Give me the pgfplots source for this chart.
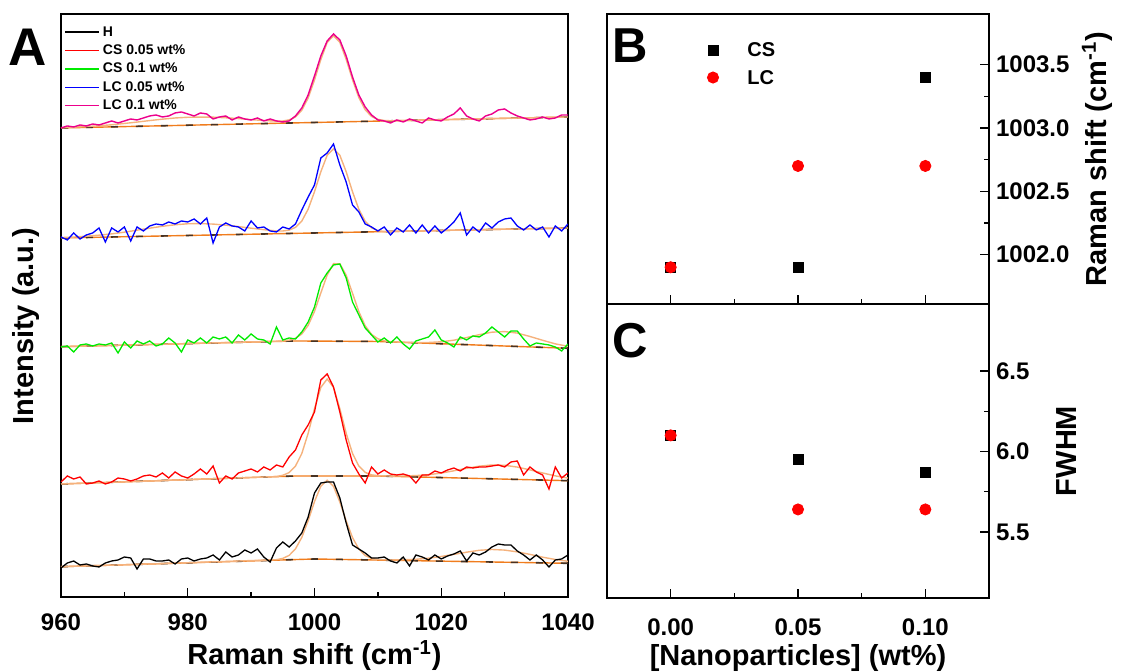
\documentclass[border=0pt]{standalone}
\usepackage{pgfplots}
\pgfplotsset{compat=1.18}
\usepackage{pgfplotstable}
\usepackage{fontspec}
\setmainfont{Liberation Sans}
\definecolor{fitor}{RGB}{245,178,125}
\definecolor{baseor}{RGB}{240,125,30}
\definecolor{lgreen}{RGB}{0,235,0}
\definecolor{darkb}{RGB}{70,50,35}

\pgfplotstableread{
X H CSa CSb LCa LCb
960 32 118 253 363 472
961 37 124 254 360 474
962 39 121 248 367 473
963 35 123 255 361 475
964 36 116 256 365 474
965 34 117 254 367 476
966 33 119 256 372 475
967 37 116 255 358 477
968 39 118 257 372 479
969 40 122 247 368 477
970 43 121 258 373 479
971 42 119 252 359 481
972 31 121 259 373 480
973 41 124 256 369 482
974 41 125 259 374 484
975 39 123 254 376 485
976 39 127 256 375 483
977 40 122 262 378 484
978 36 128 257 376 487
979 41 124 248 379 488
980 42 122 260 378 486
981 39 126 257 381 484
982 41 131 262 376 487
983 42 126 257 382 486
984 45 134 263 357 481
985 40 117 261 373 483
986 48 124 263 377 484
987 43 121 257 374 480
988 45 127 265 373 483
989 50 129 260 369 481
990 47 131 266 379 480
991 51 128 261 372 482
992 43 133 260 373 479
993 38 130 256 369 481
994 52 135 273 368 479
995 58 133 260 373 478
996 53 143 262 371 479
997 59 150 261 376 484
998 67 165 268 390 492
999 83 175 278 403 505
1000 107 188 293 415 524
1001 117 220 317 442 544
1002 118 226 327 447 559
1003 118 213 335 456 566
1004 102 188 336 435 560
1005 77 160 322 418 544
1006 55 137 298 395 523
1007 51 126 285 388 505
1008 47 117 272 376 493
1009 42 133 265 373 485
1010 42 126 258 369 480
1011 43 130 262 373 479
1012 39 126 257 365 477
1013 37 125 263 372 480
1014 43 126 256 368 478
1015 34 124 251 375 481
1016 45 117 259 367 479
1017 43 125 261 375 477
1018 40 125 263 367 482
1019 45 129 270 374 480
1020 41 127 260 367 479
1021 44 130 257 372 483
1022 46 132 253 378 486
1023 49 129 263 387 492
1024 39 133 260 365 484
1025 47 132 264 373 481
1026 45 133 263 368 479
1027 48 133 267 377 484
1028 53 134 273 372 486
1029 56 135 268 378 490
1030 55 133 263 381 491
1031 55 138 269 382 487
1032 49 139 269 374 484
1033 45 125 261 370 482
1034 40 133 254 375 480
1035 45 128 257 370 481
1036 40 125 256 373 483
1037 33 111 255 363 481
1038 40 133 253 374 482
1039 41 122 249 369 485
1040 45 127 256 376 485
}\spectra

\pgfplotsset{
  common/.style={
    scale only axis,
    axis line style={line width=0.7pt},
    every tick/.style={black, line width=0.7pt},
    tick align=inside,
    major tick length=4.5pt,
    minor tick length=2.5pt,
    /pgf/number format/assume math mode=true,
    /pgf/number format/set thousands separator={},
  },
  bline/.style={baseor, line width=0.7pt},
  bdash/.style={darkb, line width=0.8pt, dash pattern=on 3.5pt off 9pt},
  fline/.style={fitor, line width=0.7pt},
}

\begin{document}
\begin{tikzpicture}[x=1pt,y=1pt]
\useasboundingbox (0,0) rectangle (562.5,336);

% ---------------- Panel A ----------------
\begin{axis}[common,
  at={(30.5pt,37.5pt)}, anchor=south west,
  width=253.5pt, height=291.5pt,
  xmin=960, xmax=1040, ymin=3, ymax=586,
  xtick={960,980,...,1040}, minor x tick num=1,
  ytick=\empty,
  xtick pos=left,
  tick label style={font=\bfseries\fontsize{12}{14}\selectfont},
  xticklabel style={yshift=-4.8pt},
  xlabel={Raman shift (cm\textsuperscript{-1})},
  ylabel={Intensity (a.u.)},
  label style={font=\bfseries\fontsize{14.5}{16}\selectfont},
  xlabel style={at={(axis description cs:0.5,-0.1)}, anchor=center},
  ylabel style={at={(axis description cs:-0.069,0.465)}, anchor=center},
  legend style={draw=none, fill=none, at={(0.006,0.985)}, anchor=north west,
    font=\bfseries\fontsize{7}{8}\selectfont, inner sep=0pt, row sep=0.2pt,
    nodes={text height=5pt, text depth=1pt, inner sep=1.5pt}},
  legend cell align=left,
]
% baselines
\addplot[bline, forget plot] coordinates {(960,472)(1040,483)};
\addplot[bline, forget plot] coordinates {(960,362)(1040,372)};
\addplot[bline, forget plot] coordinates {(960,253.3)(997,259)(1010,258.5)(1040,251.7)};
\addplot[bline, forget plot] coordinates {(960,116)(997,124)(1010,124)(1040,119.3)};
\addplot[bline, forget plot] coordinates {(960,33.3)(1000,41)(1040,36.7)};
\addplot[bdash, forget plot] coordinates {(960,472)(1040,483)};
\addplot[bdash, forget plot] coordinates {(960,362)(1040,372)};
\addplot[bdash, forget plot] coordinates {(960,253.3)(997,259)(1010,258.5)(1040,251.7)};
\addplot[bdash, forget plot] coordinates {(960,116)(997,124)(1010,124)(1040,119.3)};
\addplot[bdash, forget plot] coordinates {(960,33.3)(1000,41)(1040,36.7)};

% fits
\addplot[fline, forget plot] coordinates {(960,472.3)(962,472.8)(964,473.4)(966,474.2)(968,475.2)(970,476.5)(972,477.9)(974,479.4)(976,480.8)(978,482)(980,482.7)(982,482.9)(984,482.8)(986,482.2)(988,481.4)(990,480.3)(992,479.5)(994,478.8)(995,479)(996,480.1)(997,483)(998,489.7)(999,502)(1000,520)(1001,540.4)(1002,557.5)(1003,564.2)(1004,557.6)(1005,540.6)(1006,520.2)(1007,502.3)(1008,490.2)(1009,483.5)(1010,480.6)(1011,479.5)(1012,479.2)(1040,483)};
\addplot[fline, forget plot] coordinates {(960,362.4)(962,362.9)(964,363.8)(966,364.8)(968,366.1)(970,367.8)(972,369.8)(974,371.8)(976,373.7)(978,375.2)(980,376.2)(982,376.4)(984,375.9)(986,374.8)(988,373.4)(990,371.8)(992,370.3)(994,369)(995,369)(996,369.9)(997,372.6)(998,378.9)(999,390.8)(1000,408.2)(1001,428.2)(1002,444.7)(1003,451.1)(1004,444.7)(1005,428.2)(1006,408.2)(1007,390.7)(1008,378.7)(1009,372.2)(1010,369.3)(1011,368.4)(1012,368.5)(1040,372)};
\addplot[fline, forget plot] coordinates {(960,253.3)(980,256.4)(995,258.9)(996,259.8)(997,261.7)(998,266)(999,274.6)(1000,288.6)(1001,307)(1002,324.9)(1003,336.3)(1004,336.2)(1005,324.8)(1006,306.7)(1007,288.3)(1008,274.2)(1009,265.6)(1010,261.2)(1011,259.2)(1012,258.2)(1014,257.7)(1016,257.4)(1018,257.5)(1020,258.2)(1022,259.8)(1024,262.4)(1026,265.3)(1028,267.8)(1030,268.4)(1032,266.9)(1034,263.5)(1036,259.7)(1038,256.1)(1040,253.7)};
\addplot[fline, forget plot] coordinates {(960,116)(980,120.3)(994,123.4)(995,124.7)(996,127.4)(997,133.9)(998,146.5)(999,166.7)(1000,191.3)(1001,212.6)(1002,221)(1003,212.6)(1004,191.3)(1005,166.7)(1006,146.5)(1007,133.9)(1008,127.6)(1009,125.1)(1010,124.3)(1012,123.9)(1014,124)(1016,124.4)(1018,125.3)(1020,126.9)(1022,129.2)(1024,131.7)(1026,133.8)(1028,135)(1030,134.7)(1032,132.9)(1034,130.1)(1036,127)(1038,124.1)(1040,121.9)};
\addplot[fline, forget plot] coordinates {(960,33.3)(980,37.2)(994,40.3)(995,41.6)(996,44.6)(997,51.1)(998,62.6)(999,79.3)(1000,98.4)(1001,113.8)(1002,119.8)(1003,113.6)(1004,98)(1005,79)(1006,62.4)(1007,50.9)(1008,44.5)(1009,41.6)(1010,40.5)(1012,40)(1014,40.2)(1016,40.7)(1018,41.8)(1020,43.5)(1022,45.6)(1024,47.8)(1026,49.7)(1028,50.5)(1030,49.9)(1032,48.1)(1034,45.6)(1036,42.8)(1038,40.5)(1040,38.7)};

% data
\addplot[black, line width=0.65pt] table[x=X,y=H]{\spectra}; \addlegendentry{H}
\addplot[red, line width=0.65pt] table[x=X,y=CSa]{\spectra}; \addlegendentry{CS 0.05 wt\%}
\addplot[lgreen, line width=0.65pt] table[x=X,y=CSb]{\spectra}; \addlegendentry{CS 0.1 wt\%}
\addplot[blue, line width=0.65pt] table[x=X,y=LCa]{\spectra}; \addlegendentry{LC 0.05 wt\%}
\addplot[magenta, line width=0.7pt] table[x=X,y=LCb]{\spectra}; \addlegendentry{LC 0.1 wt\%}
\end{axis}

% ---------------- Panel B ----------------
\begin{axis}[common,
  at={(303.5pt,184pt)}, anchor=south west,
  width=191pt, height=145pt,
  xmin=-0.025, xmax=0.125, ymin=1001.61, ymax=1003.90,
  xtick={0,0.05,0.1}, minor x tick num=1, xticklabels={},
  xtick pos=left,
  ytick={1002,1002.5,1003,1003.5}, minor y tick num=1,
  ytick pos=right, yticklabel pos=right,
  yticklabel style={/pgf/number format/fixed, /pgf/number format/fixed zerofill, /pgf/number format/precision=1},
  tick label style={font=\bfseries\fontsize{12}{14}\selectfont},
  ylabel={Raman shift (cm\textsuperscript{-1})},
  ylabel style={at={(axis description cs:1.283,0.5)}, anchor=center, font=\bfseries\fontsize{14.5}{16}\selectfont},
  legend style={draw=none, fill=none, at={(0.244,0.924)}, anchor=north west,
    font=\bfseries\fontsize{10}{12}\selectfont, inner sep=0pt, row sep=0pt,
    nodes={text height=7.2pt, text depth=0.5pt, inner sep=3pt}},
  legend cell align=left,
  legend image code/.code={\path (-2pt,0pt) (18pt,0pt); \draw[#1] plot[only marks] coordinates {(4pt,0pt)};},
]
\addplot[only marks, mark=square*, mark size=2.5pt, black] coordinates {(0,1001.9)(0.05,1001.9)(0.1,1003.4)};
\addlegendentry{CS}
\addplot[only marks, mark=*, mark size=2.8pt, red] coordinates {(0,1001.9)(0.05,1002.7)(0.1,1002.7)};
\addlegendentry{LC}
\end{axis}

% ---------------- Panel C ----------------
\begin{axis}[common,
  at={(303.5pt,37pt)}, anchor=south west,
  width=191pt, height=147pt,
  xmin=-0.025, xmax=0.125, ymin=5.09, ymax=6.916,
  xtick={0,0.05,0.1}, minor x tick num=1,
  xtick pos=left,
  xticklabel style={yshift=-7pt, /pgf/number format/fixed, /pgf/number format/fixed zerofill, /pgf/number format/precision=2},
  ytick={5.5,6,6.5}, minor y tick num=1,
  ytick pos=right, yticklabel pos=right,
  yticklabel style={/pgf/number format/fixed, /pgf/number format/fixed zerofill, /pgf/number format/precision=1},
  tick label style={font=\bfseries\fontsize{12}{14}\selectfont},
  xlabel={[Nanoparticles] (wt\%)},
  xlabel style={at={(axis description cs:0.5,-0.205)}, anchor=center, font=\bfseries\fontsize{14.5}{16}\selectfont},
  ylabel={FWHM},
  ylabel style={at={(axis description cs:1.204,0.5)}, anchor=center, font=\bfseries\fontsize{14.5}{16}\selectfont},
]
\addplot[only marks, mark=square*, mark size=2.5pt, black] coordinates {(0,6.1)(0.05,5.95)(0.1,5.87)};
\addplot[only marks, mark=*, mark size=2.8pt, red] coordinates {(0,6.1)(0.05,5.64)(0.1,5.64)};
\end{axis}

\node[font=\bfseries\fontsize{26.5}{30}\selectfont] at (14,312.5) {A};
\node[font=\bfseries\fontsize{24.5}{28}\selectfont] at (315,313) {B};
\node[font=\bfseries\fontsize{24.5}{28}\selectfont] at (315,165.5) {C};
\end{tikzpicture}
\end{document}
